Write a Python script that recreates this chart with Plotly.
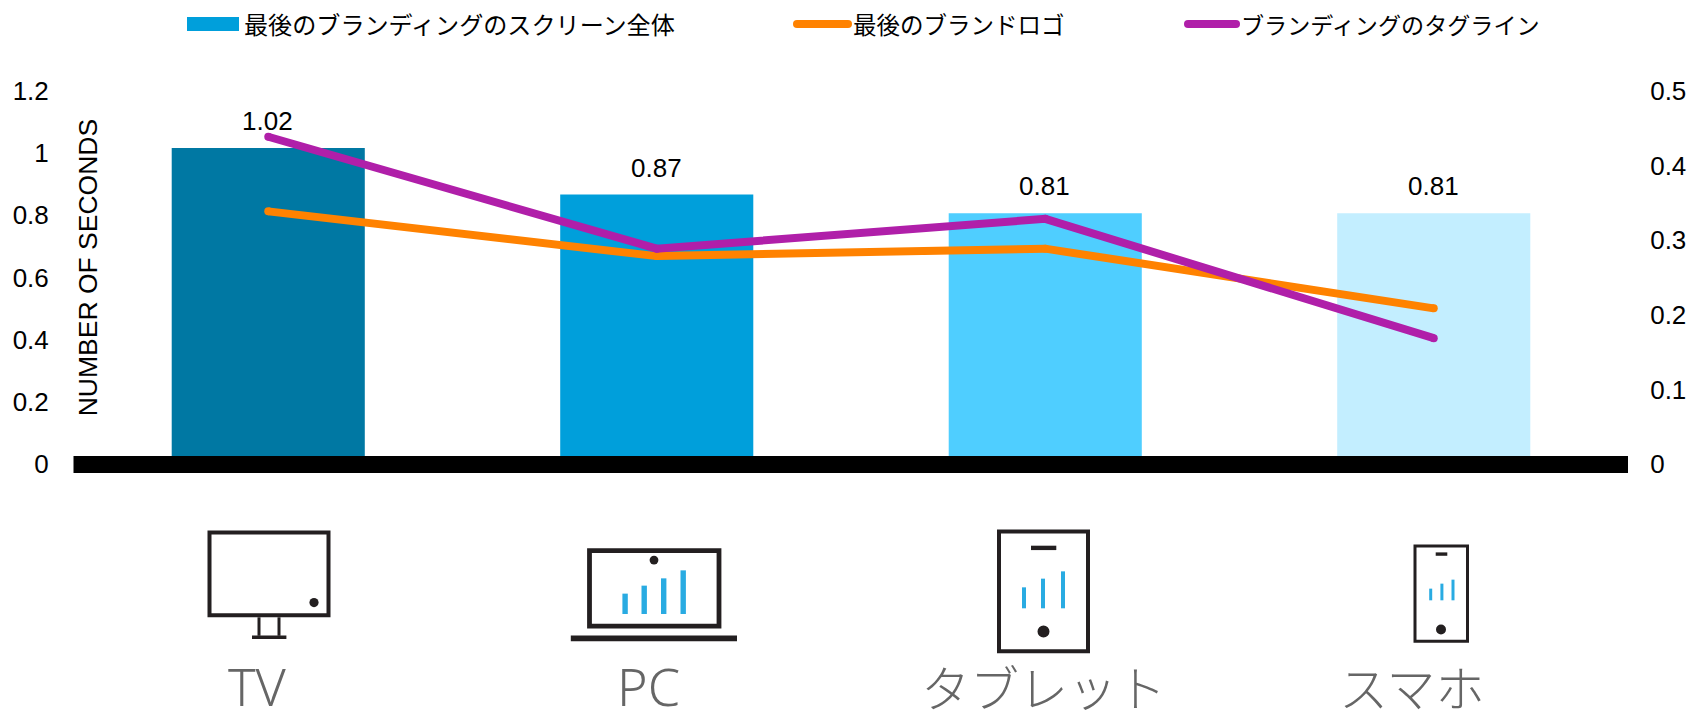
import plotly.graph_objects as go

# ---- data ----
categories = ["TV", "PC", "タブレット", "スマホ"]
full_screen = [1.02, 0.87, 0.81, 0.81]
brand_logo = [0.34, 0.28, 0.29, 0.21]
tagline = [0.44, 0.29, 0.33, 0.17]
left_ticks = [0, 0.2, 0.4, 0.6, 0.8, 1, 1.2]
right_ticks = [0, 0.1, 0.2, 0.3, 0.4, 0.5]
series_names = ["最後のブランディングのスクリーン全体", "最後のブランドロゴ", "ブランディングのタグライン"]
axis_title = "NUMBER OF SECONDS"

bar_colors = ["#0078A3", "#009FDB", "#4FCEFF", "#C3EEFF"]
ORANGE = "#FF8200"
PURPLE = "#B01FA9"
LATIN = "Liberation Sans, Arial, sans-serif"
CJK = "Noto Sans CJK JP, sans-serif"
W, H = 1704, 712
L, R, T, B = 74, 76, 92, 246.5


def X(px):
    return (px - L) / (W - L - R)


def Y(py):
    return (H - B - py) / (H - T - B)


shapes = []


def rect(x0, y0, x1, y1, fill=None, line=None, lw=0):
    s = dict(type="rect", xref="paper", yref="paper", x0=X(x0), x1=X(x1), y0=Y(y1), y1=Y(y0), layer="above")
    s["fillcolor"] = fill if fill else "rgba(0,0,0,0)"
    s["line"] = dict(color=line, width=lw) if line else dict(width=0)
    shapes.append(s)


def disc(cx, cy, rx, ry, fill):
    shapes.append(dict(type="circle", xref="paper", yref="paper", x0=X(cx - rx), x1=X(cx + rx),
                       y0=Y(cy + ry), y1=Y(cy - ry), fillcolor=fill, line=dict(width=0), layer="above"))


INK = "#231F20"
ICON_BLUE = "#29ABE2"

# thick baseline
rect(73.5, 456.5, 1628, 473.5, fill="#000000")

# TV icon
rect(209.5, 533, 328.5, 616, line=INK, lw=4)
disc(314, 603.3, 4.6, 4.6, INK)
rect(257.5, 618, 260.5, 636.5, fill=INK)
rect(277.5, 618, 280.5, 636.5, fill=INK)
rect(252, 636.3, 286.4, 639.8, fill=INK)

# laptop icon
rect(589.5, 551.2, 719, 626.8, line=INK, lw=4.8)
disc(654, 560.7, 4.4, 4.4, INK)
for cx, top in zip([625.1, 644.2, 663.7, 683.2], [594.3, 586.3, 579, 571]):
    rect(cx - 2.7, top, cx + 2.7, 614.7, fill=ICON_BLUE)
rect(570.8, 636.3, 737, 642, fill=INK)

# tablet icon
rect(999, 532, 1088, 652, line=INK, lw=4)
rect(1031, 546.3, 1056.3, 550.7, fill=INK)
for cx, top in zip([1024, 1043, 1063], [588, 579.3, 572]):
    rect(cx - 2, top, cx + 2, 609, fill=ICON_BLUE)
disc(1043.5, 632.3, 6, 6, INK)

# phone icon
rect(1415, 546.5, 1467.5, 642, line=INK, lw=3)
rect(1435.7, 553, 1447.3, 556.4, fill=INK)
for cx, top in zip([1430.7, 1441.9, 1453], [589.3, 584.3, 580.3]):
    rect(cx - 1.5, top, cx + 1.5, 601, fill=ICON_BLUE)
disc(1441, 630.3, 5, 5, INK)

# legend swatches
rect(187, 17, 239, 31, fill="#009FDB")
for x0, x1, c in [(797, 848, ORANGE), (1188, 1236, PURPLE)]:
    rect(x0, 20, x1, 28, fill=c)
    disc(x0, 24, 4, 4, c)
    disc(x1, 24, 4, 4, c)

annotations = []


def label(px, py, text, size, color="#000000", font=CJK, xanchor="left", angle=0, weight=None):
    f = dict(family=font, size=size, color=color)
    if weight:
        f["weight"] = weight
    annotations.append(dict(xref="paper", yref="paper", x=X(px), y=Y(py), text=text, showarrow=False,
                            xanchor=xanchor, yanchor="middle", font=f, textangle=angle,
                            borderpad=0, borderwidth=0))


# legend texts
label(244, 23.5, series_names[0], 24.1)
label(853, 23.5, series_names[1], 23.5)
label(1241, 23.5, series_names[2], 23.1)

# y title inside the plot region
label(87.5, 268, axis_title, 26.5, font=LATIN, xanchor="center", angle=-90)

# category labels below the icons
label(257, 686, categories[0], 52, color="#666666", font="Noto Sans, sans-serif", xanchor="center", weight=300)
label(648, 686, categories[1], 52, color="#666666", font="Noto Sans, sans-serif", xanchor="center", weight=300)
label(1043, 686, categories[2], 49, color="#666666", font=CJK, xanchor="center", weight=300)
label(1412, 686, categories[3], 49, color="#666666", font=CJK, xanchor="center", weight=300)

# value labels over bars
for c, v in zip(categories, full_screen):
    annotations.append(dict(x=c, y=v, xref="x", yref="y", text=f"{v:g}", showarrow=False, yanchor="middle",
                            yshift=27, xshift=-0.5, font=dict(family=LATIN, size=26, color="#000000")))

fig = go.Figure()
fig.add_bar(x=categories, y=full_screen, name=series_names[0], marker=dict(color=bar_colors, line=dict(width=0)),
            width=0.497, showlegend=False, hoverinfo="y")
for values, name, color in [(brand_logo, series_names[1], ORANGE), (tagline, series_names[2], PURPLE)]:
    fig.add_scatter(x=categories, y=values, name=name, yaxis="y2", mode="lines+markers",
                    line=dict(color=color, width=8), marker=dict(color=color, size=8, line=dict(width=0)),
                    showlegend=False, cliponaxis=False)

tick_font = dict(family=LATIN, size=26, color="#000000")
fig.update_layout(
    width=W, height=H, autosize=False,
    margin=dict(l=L, r=R, t=T, b=B, pad=0),
    paper_bgcolor="#FFFFFF", plot_bgcolor="#FFFFFF",
    shapes=shapes, annotations=annotations, showlegend=False,
    xaxis=dict(type="category", range=[-0.5, 3.5], showgrid=False, showline=False, zeroline=False,
               showticklabels=False, ticks=""),
    yaxis=dict(range=[0, 1.2], tickvals=left_ticks, showgrid=False, zeroline=False, showline=False,
               ticks="outside", ticklen=19, tickcolor="rgba(0,0,0,0)", tickfont=tick_font, ticklabelshift=-1),
    yaxis2=dict(range=[0, 0.5], tickvals=right_ticks, overlaying="y", side="right", showgrid=False,
                zeroline=False, showline=False, ticks="outside", ticklen=16, tickcolor="rgba(0,0,0,0)",
                tickfont=tick_font, ticklabelshift=-1),
)
fig.write_html("out.html", config={"displayModeBar": False},
               post_script="document.body.style.margin='0';document.body.style.overflow='hidden';")
